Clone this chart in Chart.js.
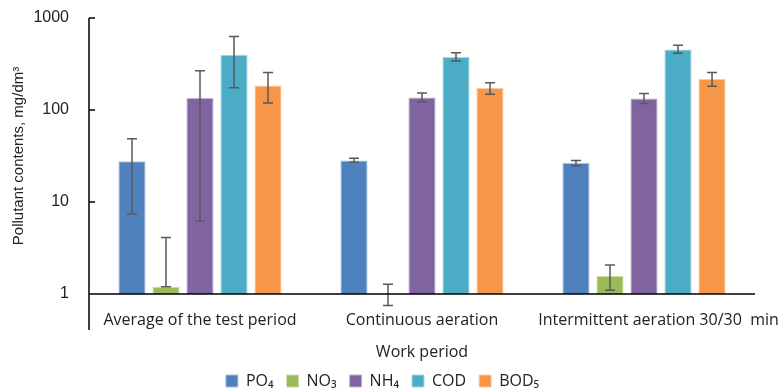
<!DOCTYPE html>
<html>
<head>
<meta charset="utf-8">
<script src="https://cdn.jsdelivr.net/npm/chart.js@4.4.0/dist/chart.umd.min.js"></script>
<style>
  html, body { margin: 0; padding: 0; background: #fff; }
  #wrap { width: 783px; height: 390px; }
</style>
</head>
<body>
<div id="wrap"><canvas id="chart" width="783" height="390"></canvas></div>
<script>
// Categories and tick labels
const categories = ['Average of the test period', 'Continuous aeration', '       Intermittent aeration 30/30  min'];
const yTicks = [1, 10, 100, 1000];

// Mean values, mg/dm3
const po4 = [27.8, 28.3, 26.5];
const no3 = [1.2, 1.0, 1.57];
const nh4 = [135, 137, 133];
const cod = [398, 376, 455];
const bod = [185, 173, 217];

// Error bar ranges [low, high]
const po4Err = [[7.4, 48.6], [27.1, 29.9], [24.8, 28.3]];
const no3Err = [[1.2, 4.1], [0.75, 1.28], [1.1, 2.06]];
const nh4Err = [[6.2, 267], [122, 153], [118, 151]];
const codErr = [[175, 629], [340, 419], [415, 507]];
const bodErr = [[119, 256], [148, 198], [181, 256]];

const seriesNames = ['PO\u2084', 'NO\u2083', 'NH\u2084', 'COD', 'BOD\u2085'];
const seriesData = [po4, no3, nh4, cod, bod];
const seriesErr = [po4Err, no3Err, nh4Err, codErr, bodErr];
const colors = ['#4F81BD', '#9BBB59', '#8064A2', '#4BACC6', '#F79646'];
const edges = ['#A9C0DE', '#CDDDAC', '#BFB1D0', '#A5D5E2', '#FBCAA2'];

// Error bars + Excel-like axis marks
const errorBars = {
    id: 'errorBars',
    afterDatasetsDraw(chart) {
        const ctx = chart.ctx;
        const y = chart.scales.y;
        ctx.save();
        ctx.strokeStyle = '#595959';
        ctx.lineWidth = 1.5;
        chart.data.datasets.forEach((ds, i) => {
            const meta = chart.getDatasetMeta(i);
            meta.data.forEach((bar, j) => {
                const [lo, hi] = seriesErr[i][j];
                const yLo = y.getPixelForValue(lo);
                const yHi = y.getPixelForValue(hi);
                ctx.beginPath();
                ctx.moveTo(bar.x, yLo); ctx.lineTo(bar.x, yHi);
                ctx.moveTo(bar.x - 5, yLo); ctx.lineTo(bar.x + 5, yLo);
                ctx.moveTo(bar.x - 5, yHi); ctx.lineTo(bar.x + 5, yHi);
                ctx.stroke();
            });
        });
        // axis lines
        const area = chart.chartArea;
        ctx.strokeStyle = '#000';
        ctx.lineWidth = 1.5;
        ctx.beginPath();
        ctx.moveTo(area.left, area.top);
        ctx.lineTo(area.left, area.bottom + 36);
        ctx.moveTo(area.left, area.bottom);
        ctx.lineTo(area.right, area.bottom);
        yTicks.forEach(t => {
            const p = y.getPixelForValue(t);
            ctx.moveTo(area.left, p);
            ctx.lineTo(area.left + 6, p);
        });
        ctx.stroke();
        ctx.restore();
    }
};

new Chart(document.getElementById('chart'), {
    type: 'bar',
    data: {
        labels: categories,
        datasets: seriesNames.map((name, i) => ({
            label: name,
            data: seriesData[i],
            backgroundColor: colors[i],
            borderColor: edges[i],
            borderWidth: 1,
            barPercentage: 0.8,
            categoryPercentage: 0.766
        }))
    },
    options: {
        responsive: false,
        animation: false,
        layout: { padding: { top: 18, right: 28, left: 10, bottom: 0 } },
        plugins: {
            legend: {
                position: 'bottom',
                maxHeight: 30,
                labels: {
                    boxWidth: 12,
                    boxHeight: 12,
                    padding: 13,
                    color: '#222',
                    font: { family: 'Open Sans', size: 16 }
                }
            },
            tooltip: { enabled: false }
        },
        scales: {
            x: {
                grid: { display: false, drawTicks: false },
                border: { display: false },
                afterFit(scale) {
                    scale.height = 66;
                    scale.paddingLeft = 0;
                    scale.paddingRight = 0;
                },
                ticks: {
                    color: '#222',
                    padding: 17,
                    maxRotation: 0,
                    autoSkip: false,
                    font: { family: 'Open Sans', size: 16 }
                },
                title: {
                    display: true,
                    text: 'Work period',
                    color: '#222',
                    padding: { top: 12, bottom: -2 },
                    font: { family: 'Open Sans', size: 16 }
                }
            },
            y: {
                type: 'logarithmic',
                min: 1,
                max: 1000,
                afterBuildTicks(scale) {
                    scale.ticks = yTicks.map(v => ({ value: v }));
                },
                afterFit(scale) {
                    scale.width = 79;
                    scale.paddingTop = 0;
                    scale.paddingBottom = 0;
                },
                grid: { display: false, drawTicks: false },
                border: { display: false },
                ticks: {
                    color: '#222',
                    padding: 20,
                    font: { family: 'Liberation Sans', size: 16 },
                    callback: v => String(v)
                },
                title: {
                    display: true,
                    text: 'Pollutant contents, mg/dm\u00B3',
                    color: '#222',
                    padding: { top: 0, bottom: 0 },
                    font: { family: 'Liberation Sans', size: 15 }
                }
            }
        }
    },
    plugins: [errorBars]
});
</script>
</body>
</html>
